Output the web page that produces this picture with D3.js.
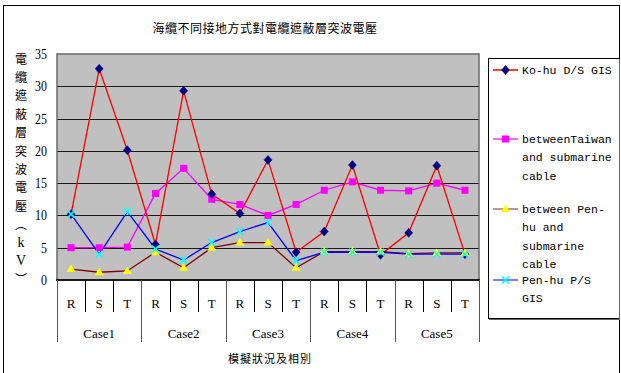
<!DOCTYPE html>
<html>
<head>
<meta charset="utf-8">
<script src="https://cdn.jsdelivr.net/npm/d3@7"></script>
<style>
  html, body { margin: 0; padding: 0; background: #fff; }
  svg { display: block; }
</style>
</head>
<body>
<svg id="chart" width="621" height="373"></svg>
<script>
// Cases and phases along the x axis
const cases = ["Case1", "Case2", "Case3", "Case4", "Case5"];
const phases = ["R", "S", "T"];
const yTicks = [0, 5, 10, 15, 20, 25, 30, 35];

// Shield surge voltage (kV) per case/phase, 15 points each
const kohuDS = [10.2, 32.7, 20.1, 5.5, 29.3, 13.3, 10.3, 18.6, 4.3, 7.5, 17.8, 3.9, 7.3, 17.7, 4.0];
const betweenTaiwan = [5.0, 5.0, 5.1, 13.4, 17.3, 12.5, 11.7, 10.0, 11.7, 13.9, 15.2, 13.9, 13.8, 15.0, 13.9];
const betweenPenhu = [1.7, 1.2, 1.4, 4.3, 1.9, 5.0, 5.8, 5.8, 1.9, 4.4, 4.4, 4.4, 4.1, 4.2, 4.2];
const penhuPS = [10.2, 4.0, 10.6, 4.8, 3.1, 5.8, 7.5, 8.9, 3.0, 4.3, 4.3, 4.3, 4.0, 4.0, 4.0];

const seriesNames = [
  ["Ko-hu D/S GIS"],
  ["betweenTaiwan", "and submarine", "cable"],
  ["between Pen-", "hu and", "submarine", "cable"],
  ["Pen-hu P/S", "GIS"]
];

const title = "海纜不同接地方式對電纜遮蔽層突波電壓";
const yTitle = ["電","纜","遮","蔽","層","突","波","電","壓","︵","k","V","︶"];
const xTitle = "模擬狀況及相別";

const series = [
  { values: kohuDS, line: "#ff0000", legendLine: "#ff0000", marker: "diamond", fill: "#000080", stroke: "#000080" },
  { values: betweenTaiwan, line: "#ff00ff", legendLine: "#ff33ff", marker: "square", fill: "#ff00ff", stroke: "#ff00ff" },
  { values: betweenPenhu, line: "#800000", legendLine: "#b07070", marker: "triangle", fill: "#ffff00", stroke: "#ffff00" },
  { values: penhuPS, line: "#0000ff", legendLine: "#5050ff", marker: "cross", fill: "none", stroke: "#00ffff" }
];

const svg = d3.select("#chart");
const serif = "'Liberation Serif', 'DejaVu Serif', serif";
const cjk = "'Noto Sans CJK TC', 'Noto Sans CJK SC', sans-serif";
const mono = "'Liberation Mono', 'DejaVu Sans Mono', monospace";

const plot = { left: 57, right: 479, top: 54, bottom: 280 };

// Outer chart frame
svg.append("rect")
  .attr("x", 3.5).attr("y", 5.5)
  .attr("width", 616).attr("height", 380)
  .attr("fill", "#fff").attr("stroke", "#000").attr("stroke-width", 1);

// Category keys
const keys = [];
cases.forEach(c => phases.forEach(p => keys.push(c + "-" + p)));

const x = d3.scaleBand().domain(keys).range([plot.left, plot.right]);
const y = d3.scaleLinear().domain([0, 35]).range([plot.bottom, plot.top]);

// Plot background
svg.append("rect")
  .attr("x", plot.left).attr("y", plot.top)
  .attr("width", plot.right - plot.left).attr("height", plot.bottom - plot.top)
  .attr("fill", "#c0c0c0");

// Horizontal gridlines
svg.append("g").selectAll("line")
  .data(yTicks.filter(v => v > 0 && v < 35))
  .join("line")
  .attr("x1", plot.left).attr("x2", plot.right)
  .attr("y1", d => Math.round(y(d)) + 0.5).attr("y2", d => Math.round(y(d)) + 0.5)
  .attr("stroke", "#1a1a1a").attr("stroke-width", 1);

// Plot border
svg.append("rect")
  .attr("x", plot.left).attr("y", plot.top)
  .attr("width", plot.right - plot.left).attr("height", plot.bottom - plot.top)
  .attr("fill", "none").attr("stroke", "#6a6a6a").attr("stroke-width", 1.5);

// Y axis labels
const yAxis = d3.axisLeft(y).tickValues(yTicks).tickSize(0).tickPadding(10);
const yg = svg.append("g").attr("transform", `translate(${plot.left},0)`).call(yAxis);
yg.select(".domain").remove();
yg.selectAll("text")
  .attr("font-family", serif).attr("font-size", 14).attr("fill", "#000")
  .attr("transform", "scale(0.85,1)")
  .attr("x", -10 / 0.85);

// X axis line
svg.append("line")
  .attr("x1", plot.left - 1).attr("x2", plot.right + 1)
  .attr("y1", plot.bottom).attr("y2", plot.bottom)
  .attr("stroke", "#1a1a1a").attr("stroke-width", 2);

// Phase dividers and labels
const xg = svg.append("g");
keys.forEach((k, i) => {
  const x0 = x(k);
  const isCaseEdge = i % 3 === 0;
  xg.append("line")
    .attr("x1", Math.round(x0) + 0.5).attr("x2", Math.round(x0) + 0.5)
    .attr("y1", plot.bottom).attr("y2", isCaseEdge ? 342 : 312)
    .attr("stroke", isCaseEdge ? "#555" : "#000").attr("stroke-width", 1);
  xg.append("text")
    .attr("x", x0 + x.bandwidth() / 2).attr("y", 303)
    .attr("text-anchor", "middle").attr("dominant-baseline", "central")
    .attr("font-family", serif).attr("font-size", 13)
    .text(phases[i % 3]);
});
xg.append("line")
  .attr("x1", plot.right + 0.5).attr("x2", plot.right + 0.5)
  .attr("y1", plot.bottom).attr("y2", 342)
  .attr("stroke", "#555").attr("stroke-width", 1);

// Case labels centred under each group of three phases
cases.forEach(c => {
  const cx = (x(c + "-R") + x(c + "-T") + x.bandwidth()) / 2;
  xg.append("text")
    .attr("x", cx).attr("y", 333)
    .attr("text-anchor", "middle").attr("dominant-baseline", "central")
    .attr("font-family", serif).attr("font-size", 13)
    .text(c);
});

// Titles
svg.append("text")
  .attr("x", 265).attr("y", 27)
  .attr("text-anchor", "middle").attr("dominant-baseline", "central")
  .attr("font-family", cjk).attr("font-size", 12).attr("letter-spacing", 0.5)
  .text(title);

svg.append("text")
  .attr("x", 270).attr("y", 358)
  .attr("text-anchor", "middle").attr("dominant-baseline", "central")
  .attr("font-family", cjk).attr("font-size", 11).attr("letter-spacing", 1)
  .text(xTitle);

svg.append("g").selectAll("text")
  .data(yTitle)
  .join("text")
  .attr("x", 21).attr("y", (d, i) => 58 + i * 18.4)
  .attr("text-anchor", "middle").attr("dominant-baseline", "central")
  .attr("font-family", (d) => /[kV]/.test(d) ? serif : cjk)
  .attr("font-size", (d) => /[kV]/.test(d) ? 14 : 12)
  .text(d => d);

// Marker drawing
function drawMarker(g, type, cx, cy, s) {
  if (type === "diamond") {
    g.append("path")
      .attr("d", `M${cx},${cy - 4.5}L${cx + 4},${cy}L${cx},${cy + 4.5}L${cx - 4},${cy}Z`)
      .attr("fill", s.fill).attr("stroke", s.stroke).attr("stroke-width", 0.5);
  } else if (type === "square") {
    g.append("rect")
      .attr("x", cx - 3.5).attr("y", cy - 3.5).attr("width", 7).attr("height", 7)
      .attr("fill", s.fill);
  } else if (type === "triangle") {
    g.append("path")
      .attr("d", `M${cx},${cy - 4.5}L${cx + 4.5},${cy + 3}L${cx - 4.5},${cy + 3}Z`)
      .attr("fill", s.fill);
  } else if (type === "cross") {
    g.append("path")
      .attr("d", `M${cx - 3.5},${cy - 3.5}L${cx + 3.5},${cy + 3.5}M${cx + 3.5},${cy - 3.5}L${cx - 3.5},${cy + 3.5}`)
      .attr("stroke", s.stroke).attr("stroke-width", 1.5).attr("fill", "none");
  }
}

// Series lines and markers (drawn back to front)
const line = d3.line()
  .x((d, i) => x(keys[i]) + x.bandwidth() / 2)
  .y(d => y(d));

const order = [1, 0, 2, 3];
order.forEach(si => {
  const s = series[si];
  svg.append("path")
    .datum(s.values)
    .attr("d", line)
    .attr("fill", "none").attr("stroke", s.line).attr("stroke-width", 1.3);
});
order.forEach(si => {
  const s = series[si];
  const g = svg.append("g");
  s.values.forEach((v, i) => drawMarker(g, s.marker, x(keys[i]) + x.bandwidth() / 2, y(v), s));
});

// Legend
const legend = svg.append("g");
legend.append("rect")
  .attr("x", 488.5).attr("y", 58.5).attr("width", 131).attr("height", 260)
  .attr("fill", "#fff").attr("stroke", "#000").attr("stroke-width", 1);
legend.append("path")
  .attr("d", "M489,319.5H620M619.5,59V320")
  .attr("stroke", "#666").attr("stroke-width", 1);

const legendY = [70, 139, 209, 280];
series.forEach((s, i) => {
  const ly = legendY[i];
  legend.append("line")
    .attr("x1", 493).attr("x2", 518).attr("y1", ly).attr("y2", ly)
    .attr("stroke", s.legendLine).attr("stroke-width", 1.5);
  drawMarker(legend, s.marker, 505.5, ly, s);
  seriesNames[i].forEach((t, j) => {
    legend.append("text")
      .attr("x", 522).attr("y", ly + j * 18.5)
      .attr("dominant-baseline", "central")
      .attr("font-family", mono).attr("font-size", 11.5)
      .text(t);
  });
});
</script>
</body>
</html>
